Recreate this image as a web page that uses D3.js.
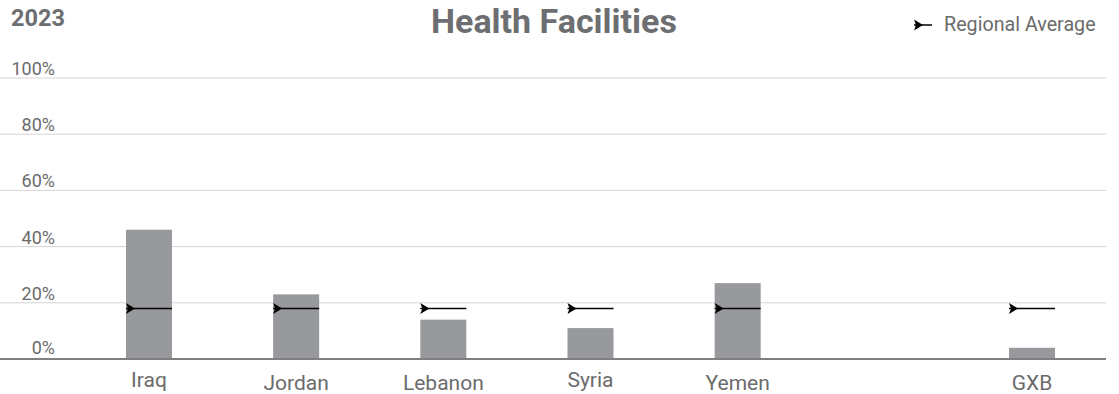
<!DOCTYPE html>
<html>
<head>
<meta charset="utf-8">
<script src="https://cdn.jsdelivr.net/npm/d3@7"></script>
<style>
  html, body { margin: 0; padding: 0; background: #fff; }
  svg { display: block; font-family: Roboto, "Noto Sans", sans-serif; }
</style>
</head>
<body>
<svg id="chart" width="1119" height="394"></svg>
<script>
// Share of health facilities per country, 2023 (percent)
const categories = ["Iraq", "Jordan", "Lebanon", "Syria", "Yemen", "", "GXB"];
const shares = [46, 23, 14, 11, 27, null, 4];
const regionalAverage = [18, 18, 18, 18, 18, null, 18];
const yTicks = [0, 20, 40, 60, 80, 100];
const yearLabel = "2023";
const titleText = "Health Facilities";
const legendLabel = "Regional Average";

const svg = d3.select("#chart");
const textGray = "#6b6b6b";

const x = d3.scaleBand()
  .domain(categories)
  .range([75.4, 1105.6])
  .paddingInner(0.6874)
  .paddingOuter(0.3437);

const y = d3.scaleLinear().domain([0, 100]).range([359, 78]);

// horizontal grid
svg.append("g")
  .selectAll("line")
  .data(yTicks.filter(t => t !== 0))
  .join("line")
  .attr("x1", 0).attr("x2", 1106)
  .attr("y1", d => y(d)).attr("y2", d => y(d))
  .attr("stroke", "#d4d4d4").attr("stroke-width", 1);

// tick labels
svg.append("g")
  .selectAll("text")
  .data(yTicks)
  .join("text")
  .attr("x", 55)
  .attr("y", d => y(d) - (d === 0 ? 5 : 3))
  .attr("text-anchor", "end")
  .attr("font-size", 18)
  .attr("fill", textGray)
  .text(d => d + "%");

const rows = categories.map((c, i) => ({ c, v: shares[i], avg: regionalAverage[i] }))
  .filter(d => d.v !== null);

// bars
svg.append("g")
  .selectAll("rect")
  .data(rows)
  .join("rect")
  .attr("x", d => x(d.c))
  .attr("width", x.bandwidth())
  .attr("y", d => y(d.v))
  .attr("height", d => y(0) - y(d.v))
  .attr("fill", "#98999c");

// baseline
svg.append("line")
  .attr("x1", 0).attr("x2", 1106)
  .attr("y1", y(0)).attr("y2", y(0))
  .attr("stroke", "#808080").attr("stroke-width", 2);

// regional average markers
const avg = svg.append("g");
avg.selectAll("line")
  .data(rows)
  .join("line")
  .attr("x1", d => x(d.c)).attr("x2", d => x(d.c) + x.bandwidth())
  .attr("y1", d => y(d.avg)).attr("y2", d => y(d.avg))
  .attr("stroke", "#000").attr("stroke-width", 1.5);
avg.selectAll("path")
  .data(rows)
  .join("path")
  .attr("d", d => {
    const x0 = x(d.c), yy = y(d.avg);
    return `M${x0},${yy - 5.5} L${x0 + 9},${yy} L${x0},${yy + 5.5} L${x0 + 2},${yy} Z`;
  })
  .attr("fill", "#000");

// category labels
svg.append("g")
  .selectAll("text")
  .data(rows)
  .join("text")
  .attr("x", d => x(d.c) + x.bandwidth() / 2)
  .attr("y", d => /[gjpqy]/.test(d.c) ? 387 : 390)
  .attr("text-anchor", "middle")
  .attr("font-size", 21)
  .attr("fill", textGray)
  .text(d => d.c);

// header
svg.append("text")
  .attr("x", 11).attr("y", 26)
  .attr("font-size", 23.5).attr("font-weight", 700)
  .attr("fill", "#6d6e71")
  .text(yearLabel);

svg.append("text")
  .attr("x", 554).attr("y", 33)
  .attr("text-anchor", "middle")
  .attr("font-size", 34).attr("font-weight", 700)
  .attr("fill", "#6d6e71")
  .text(titleText);

// legend
const lg = svg.append("g");
lg.append("line")
  .attr("x1", 914).attr("x2", 932).attr("y1", 25).attr("y2", 25)
  .attr("stroke", "#000").attr("stroke-width", 1.5);
lg.append("path")
  .attr("d", "M914,19.5 L923,25 L914,30.5 L916,25 Z")
  .attr("fill", "#000");
lg.append("text")
  .attr("x", 944).attr("y", 31)
  .attr("font-size", 19.7)
  .attr("fill", textGray)
  .text(legendLabel);
</script>
</body>
</html>
